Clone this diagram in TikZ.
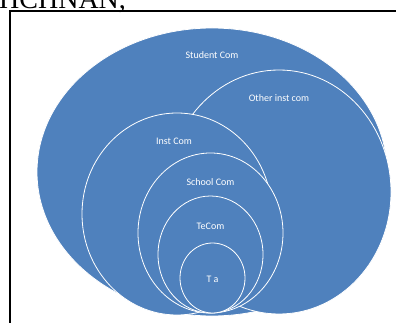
\documentclass[tikz,border=0pt]{standalone}
\usepackage{fontspec}
\setmainfont{Carlito}
\newfontfamily\headfont{Liberation Serif}
\usetikzlibrary{shapes.geometric,positioning}
\definecolor{VennBlue}{HTML}{4F81BD}

\begin{document}
\begin{tikzpicture}[
  x=1pt, y=-1pt,
  ring/.style={ellipse, draw=white, line width=0.8pt, fill=VennBlue, inner sep=0pt},
  tag/.style={text=white, inner sep=0pt, font=\fontsize{10}{12}\selectfont},
  frame/.style={line width=1.8pt, draw=black}
]
\useasboundingbox (0,0) rectangle (396,323);
% heading, cut off by the page edge
\node[anchor=base west, inner sep=0pt, font=\headfont\fontsize{28}{30}\selectfont] (head) at (-1,8.5) {HCHNAN,};
% frame round the figure
\coordinate (fbl) at (10,330);
\coordinate (ftl) at (10,11);
\coordinate (ftr) at (402,11);
\draw[frame] (fbl) -- (ftl) -- (ftr);

% sets, back to front
\node[ring, minimum width=350pt, minimum height=288pt] (student) at (212,172) {};
\node[ring, minimum width=224pt, minimum height=244pt] (other) at (279,192) {};
\node[ring, minimum width=190pt, minimum height=202pt] (inst) at (177,214) {};
\node[ring, minimum width=145pt, minimum height=160pt] (school) at (210.5,233) {};
\node[ring, minimum width=105pt, minimum height=117pt] (tecom) at (210.5,254.5) {};
\node[ring, minimum width=65pt, minimum height=70pt] (ta) at (212.5,278) {};

% labels
\node[tag, below=24pt of student.north] (studentlbl) {Student Com};
\node[tag, below=25pt of other.north] (otherlbl) {Other inst com};
\node[tag, below=25pt of inst.north, xshift=-3pt] (instlbl) {Inst Com};
\node[tag, below=26pt of school.north] (schoollbl) {School Com};
\node[tag, below=27pt of tecom.north] (tecomlbl) {TeCom};
\node[tag, below=33pt of ta.north] (talbl) {T a};
\end{tikzpicture}
\end{document}
